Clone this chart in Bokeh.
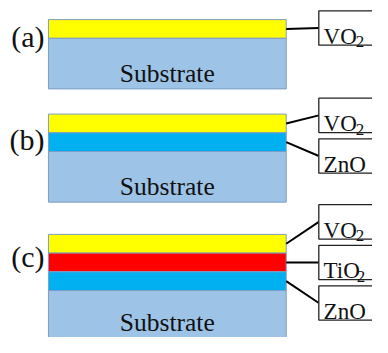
from bokeh.plotting import figure
from bokeh.models import Range1d, ColumnDataSource
from bokeh.core.properties import value
from bokeh.embed import file_html
from bokeh.resources import INLINE

# ---- data ----
panel_labels = ["(a)", "(b)", "(c)"]
panel_layers = [["VO₂"], ["VO₂", "ZnO"], ["VO₂", "TiO₂", "ZnO"]]
substrate_label = "Substrate"
layer_colors = {"VO₂": "#FFFF00", "TiO₂": "#FF0000", "ZnO": "#00B0F0"}
substrate_color = "#9DC3E6"

# ---- layout (in reference-picture pixels) ----
W, H = 388, 353
panel_tops = [20, 119, 245]
layer_h = 19.6
sub_h = 53
x_left, x_right = 50, 298
box_left, box_right = 332, 400
box_h = 36
box_gap = 42.5
box_offsets = [-1, 3, 0]
label_ys = [38, 146, 268]
FONT = value("Liberation Serif")

p = figure(width=372, height=337, x_range=Range1d(0, W), y_range=Range1d(H, 0),
           x_axis_type=None, y_axis_type=None, toolbar_location=None,
           output_backend="svg", min_border=0, outline_line_color=None)
p.grid.visible = False

q = dict(left=[], right=[], top=[], bottom=[], color=[])
bx = dict(left=[], right=[], top=[], bottom=[])
seg = dict(x0=[], y0=[], x1=[], y1=[])
bt = dict(x=[], y=[], text=[])
sb = dict(x=[], y=[], text=[])
st = dict(x=[], y=[], text=[])
pl = dict(x=[], y=[], text=[])

base_w = {"VO": 33.5, "TiO": 34.5, "ZnO": 38}

for i, layers in enumerate(panel_layers):
    top = panel_tops[i]
    n = len(layers)
    for j, name in enumerate(layers):
        q["left"].append(x_left); q["right"].append(x_right)
        q["top"].append(top + j * layer_h); q["bottom"].append(top + (j + 1) * layer_h)
        q["color"].append(layer_colors[name])
    sub_top = top + n * layer_h
    q["left"].append(x_left); q["right"].append(x_right)
    q["top"].append(sub_top); q["bottom"].append(min(sub_top + sub_h, H + 1))
    q["color"].append(substrate_color)
    st["x"].append((x_left + x_right) / 2); st["y"].append(min(sub_top + 36.5, H - 16))
    st["text"].append(substrate_label)
    pl["x"].append(46); pl["y"].append(label_ys[i]); pl["text"].append(panel_labels[i])
    stack_c = top + n * layer_h / 2 + box_offsets[i]
    for j, name in enumerate(layers):
        bc = stack_c + (j - (n - 1) / 2) * box_gap
        bx["left"].append(box_left); bx["right"].append(box_right)
        bx["top"].append(bc - box_h / 2); bx["bottom"].append(bc + box_h / 2)
        seg["x0"].append(x_right); seg["y0"].append(top + (j + 0.5) * layer_h)
        seg["x1"].append(box_left); seg["y1"].append(bc)
        base = name.replace("₂", "")
        bt["x"].append(box_left + 5); bt["y"].append(bc + 8.5); bt["text"].append(base)
        if name.endswith("₂"):
            sb["x"].append(box_left + 5 + base_w[base]); sb["y"].append(bc + 14.5); sb["text"].append("2")

p.quad(left="left", right="right", top="top", bottom="bottom", fill_color="color",
       line_color="#7f9cc4", line_width=1, source=ColumnDataSource(q))
p.segment(x0="x0", y0="y0", x1="x1", y1="y1", line_color="black", line_width=2,
          source=ColumnDataSource(seg))
p.quad(left="left", right="right", top="top", bottom="bottom", fill_color="white",
       line_color="#222222", line_width=1.3, source=ColumnDataSource(bx))
p.text(x="x", y="y", text="text", text_font=FONT, text_font_size="23px",
       text_color="#111111", text_baseline="alphabetic", source=ColumnDataSource(bt))
p.text(x="x", y="y", text="text", text_font=FONT, text_font_size="17px",
       text_color="#111111", text_baseline="alphabetic", source=ColumnDataSource(sb))
p.text(x="x", y="y", text="text", text_font=FONT, text_font_size="25.5px",
       text_color="#111111", text_align="center", text_baseline="alphabetic",
       source=ColumnDataSource(st))
p.text(x="x", y="y", text="text", text_font=FONT, text_font_size="30px",
       text_color="#111111", text_align="right", text_baseline="middle",
       source=ColumnDataSource(pl))

open("out.html", "w").write(file_html(p, INLINE))
